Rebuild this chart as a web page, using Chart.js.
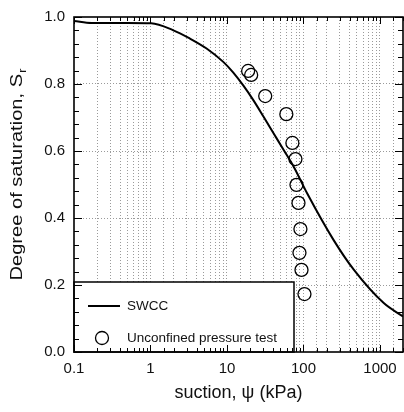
<!DOCTYPE html>
<html>
<head>
<meta charset="utf-8">
<script src="https://cdn.jsdelivr.net/npm/chart.js@4.4.1/dist/chart.umd.min.js"></script>
<style>
html, body { margin: 0; padding: 0; background: #fff; }
#wrap { width: 404px; height: 412px; position: relative; }
</style>
</head>
<body>
<div id="wrap"><canvas id="chart"></canvas></div>
<script>
// SWCC curve
const swccSuction = [0.1, 0.17, 0.5, 1.02, 1.96, 3.26, 5.41, 8.94, 12.1, 16.4, 22.2, 30.1, 40.6, 55.1, 74.5, 112, 248, 457, 1120, 2000];
const swccSr = [0.988, 0.982, 0.982, 0.981, 0.961, 0.936, 0.906, 0.866, 0.834, 0.795, 0.751, 0.702, 0.653, 0.603, 0.553, 0.473, 0.334, 0.245, 0.146, 0.106];

// unconfined pressure test points
const testSuction = [18.9, 20.7, 31.6, 59.7, 71.6, 78.5, 81, 86, 91.2, 88.6, 94.2, 103];
const testSr = [0.839, 0.827, 0.764, 0.710, 0.624, 0.576, 0.499, 0.445, 0.367, 0.296, 0.245, 0.173];

const xTickValues = [0.1, 1, 10, 100, 1000];
const xTickLabels = ['0.1', '1', '10', '100', '1000'];
const yTickLabels = ['0.0', '0.2', '0.4', '0.6', '0.8', '1.0'];

const FONT = '"Liberation Sans", Arial, sans-serif';

const isDecade = v => Math.abs(Math.log10(v) - Math.round(Math.log10(v))) < 1e-9;

// white legend box in lower-left corner
const legendBox = {
	id: 'legendBox',
	afterDraw(chart) {
		const { ctx, chartArea: ca } = chart;
		const l = ca.left, r = ca.left + 220, t = ca.bottom - 70, b = ca.bottom;
		const ds = chart.data.datasets;
		ctx.save();
		ctx.fillStyle = '#fff';
		ctx.fillRect(l, t, r - l, b - t);
		ctx.strokeStyle = '#000';
		ctx.lineWidth = 1.5;
		ctx.strokeRect(l, t, r - l, b - t);

		ctx.beginPath();
		ctx.lineWidth = ds[0].borderWidth;
		ctx.moveTo(l + 14, t + 24);
		ctx.lineTo(l + 46, t + 24);
		ctx.stroke();

		ctx.beginPath();
		ctx.lineWidth = ds[1].pointBorderWidth;
		ctx.arc(l + 28, t + 56, ds[1].pointRadius, 0, Math.PI * 2);
		ctx.stroke();

		ctx.fillStyle = '#111';
		ctx.font = '13.5px ' + FONT;
		ctx.textBaseline = 'middle';
		ctx.fillText(ds[0].label, l + 53, t + 24);
		ctx.fillText(ds[1].label, l + 53, t + 56);
		ctx.restore();
	}
};

// closed frame, inward ticks on all sides, y title with subscript
const frameTicks = {
	id: 'frameTicks',
	afterDraw(chart) {
		const { ctx, chartArea: ca, scales } = chart;
		const xs = scales.x, ys = scales.y;
		ctx.save();
		ctx.strokeStyle = '#000';
		ctx.lineWidth = 1;
		ctx.beginPath();
		xs.ticks.forEach(tk => {
			const px = Math.round(xs.getPixelForValue(tk.value)) + 0.5;
			const len = isDecade(tk.value) ? 7 : 4;
			ctx.moveTo(px, ca.bottom); ctx.lineTo(px, ca.bottom - len);
			ctx.moveTo(px, ca.top); ctx.lineTo(px, ca.top + len);
		});
		for (let i = 0; i <= 25; i++) {
			const py = Math.round(ys.getPixelForValue(i * 0.04)) + 0.5;
			const len = i % 5 === 0 ? 8 : 5;
			ctx.moveTo(ca.left, py); ctx.lineTo(ca.left + len, py);
			ctx.moveTo(ca.right, py); ctx.lineTo(ca.right - len, py);
		}
		ctx.stroke();
		ctx.lineWidth = 1.6;
		ctx.strokeRect(ca.left, ca.top, ca.right - ca.left, ca.bottom - ca.top);

		// y axis title
		ctx.fillStyle = '#111';
		ctx.translate(18, (ca.top + ca.bottom) / 2 - 10);
		ctx.rotate(-Math.PI / 2);
		ctx.font = '16px ' + FONT;
		const main = 'Degree of saturation, S';
		const wMain = ctx.measureText(main).width;
		ctx.font = '10px ' + FONT;
		const wSub = ctx.measureText('r').width;
		const stretch = 212 / (wMain + wSub + 1);
		ctx.scale(stretch, 1);
		const x0 = -(wMain + wSub + 1) / 2;
		ctx.textBaseline = 'middle';
		ctx.font = '16px ' + FONT;
		ctx.fillText(main, x0, 0);
		ctx.font = '10px ' + FONT;
		ctx.fillText('r', x0 + wMain + 1, 5);
		ctx.restore();
	}
};

new Chart(document.getElementById('chart'), {
	type: 'line',
	data: {
		datasets: [
			{
				label: 'SWCC',
				data: swccSuction.map((x, i) => ({ x, y: swccSr[i] })),
				borderColor: '#000',
				borderWidth: 2,
				pointRadius: 0,
				cubicInterpolationMode: 'monotone',
				fill: false
			},
			{
				label: 'Unconfined pressure test',
				data: testSuction.map((x, i) => ({ x, y: testSr[i] })),
				showLine: false,
				pointStyle: 'circle',
				pointRadius: 6.5,
				pointBorderWidth: 1.3,
				pointBorderColor: '#000',
				pointBackgroundColor: 'rgba(0,0,0,0)'
			}
		]
	},
	options: {
		responsive: true,
		maintainAspectRatio: false,
		animation: false,
		devicePixelRatio: 1,
		layout: { autoPadding: false, padding: { top: 17, right: 1, left: 0, bottom: 0 } },
		plugins: {
			legend: { display: false },
			tooltip: { enabled: false }
		},
		scales: {
			x: {
				type: 'logarithmic',
				min: 0.1,
				max: 2000,
				afterFit: s => { s.height = 60; s.paddingLeft = 0; s.paddingRight = 0; },
				border: { display: false, dash: [1, 2] },
				grid: {
					drawTicks: false,
					color: ctx => (ctx.tick && ctx.tick.value > 0.1 && ctx.tick.value < 2000) ? '#9a9a9a' : 'rgba(0,0,0,0)',
					lineWidth: 1
				},
				ticks: {
					autoSkip: false,
					maxRotation: 0,
					padding: 8,
					color: '#111',
					font: { family: FONT, size: 15 },
					callback: v => {
						const i = xTickValues.findIndex(t => Math.abs(t - v) / t < 1e-6);
						return i >= 0 ? xTickLabels[i] : '';
					}
				},
				title: {
					display: true,
					text: 'suction, \u03C8 (kPa)',
					color: '#111',
					font: { family: FONT, size: 18 },
					padding: { top: 8, bottom: 8 }
				}
			},
			y: {
				min: 0,
				max: 1,
				afterFit: s => { s.width = 74; s.paddingTop = 0; s.paddingBottom = 0; },
				border: { display: false, dash: [1, 2] },
				grid: {
					drawTicks: false,
					color: ctx => (ctx.tick && ctx.tick.value > 0.01 && ctx.tick.value < 0.99) ? '#9a9a9a' : 'rgba(0,0,0,0)',
					lineWidth: 1
				},
				ticks: {
					stepSize: 0.2,
					padding: 9,
					color: '#111',
					font: { family: FONT, size: 15 },
					callback: v => yTickLabels[Math.round(v * 5)]
				}
			}
		}
	},
	plugins: [legendBox, frameTicks]
});
</script>
</body>
</html>
